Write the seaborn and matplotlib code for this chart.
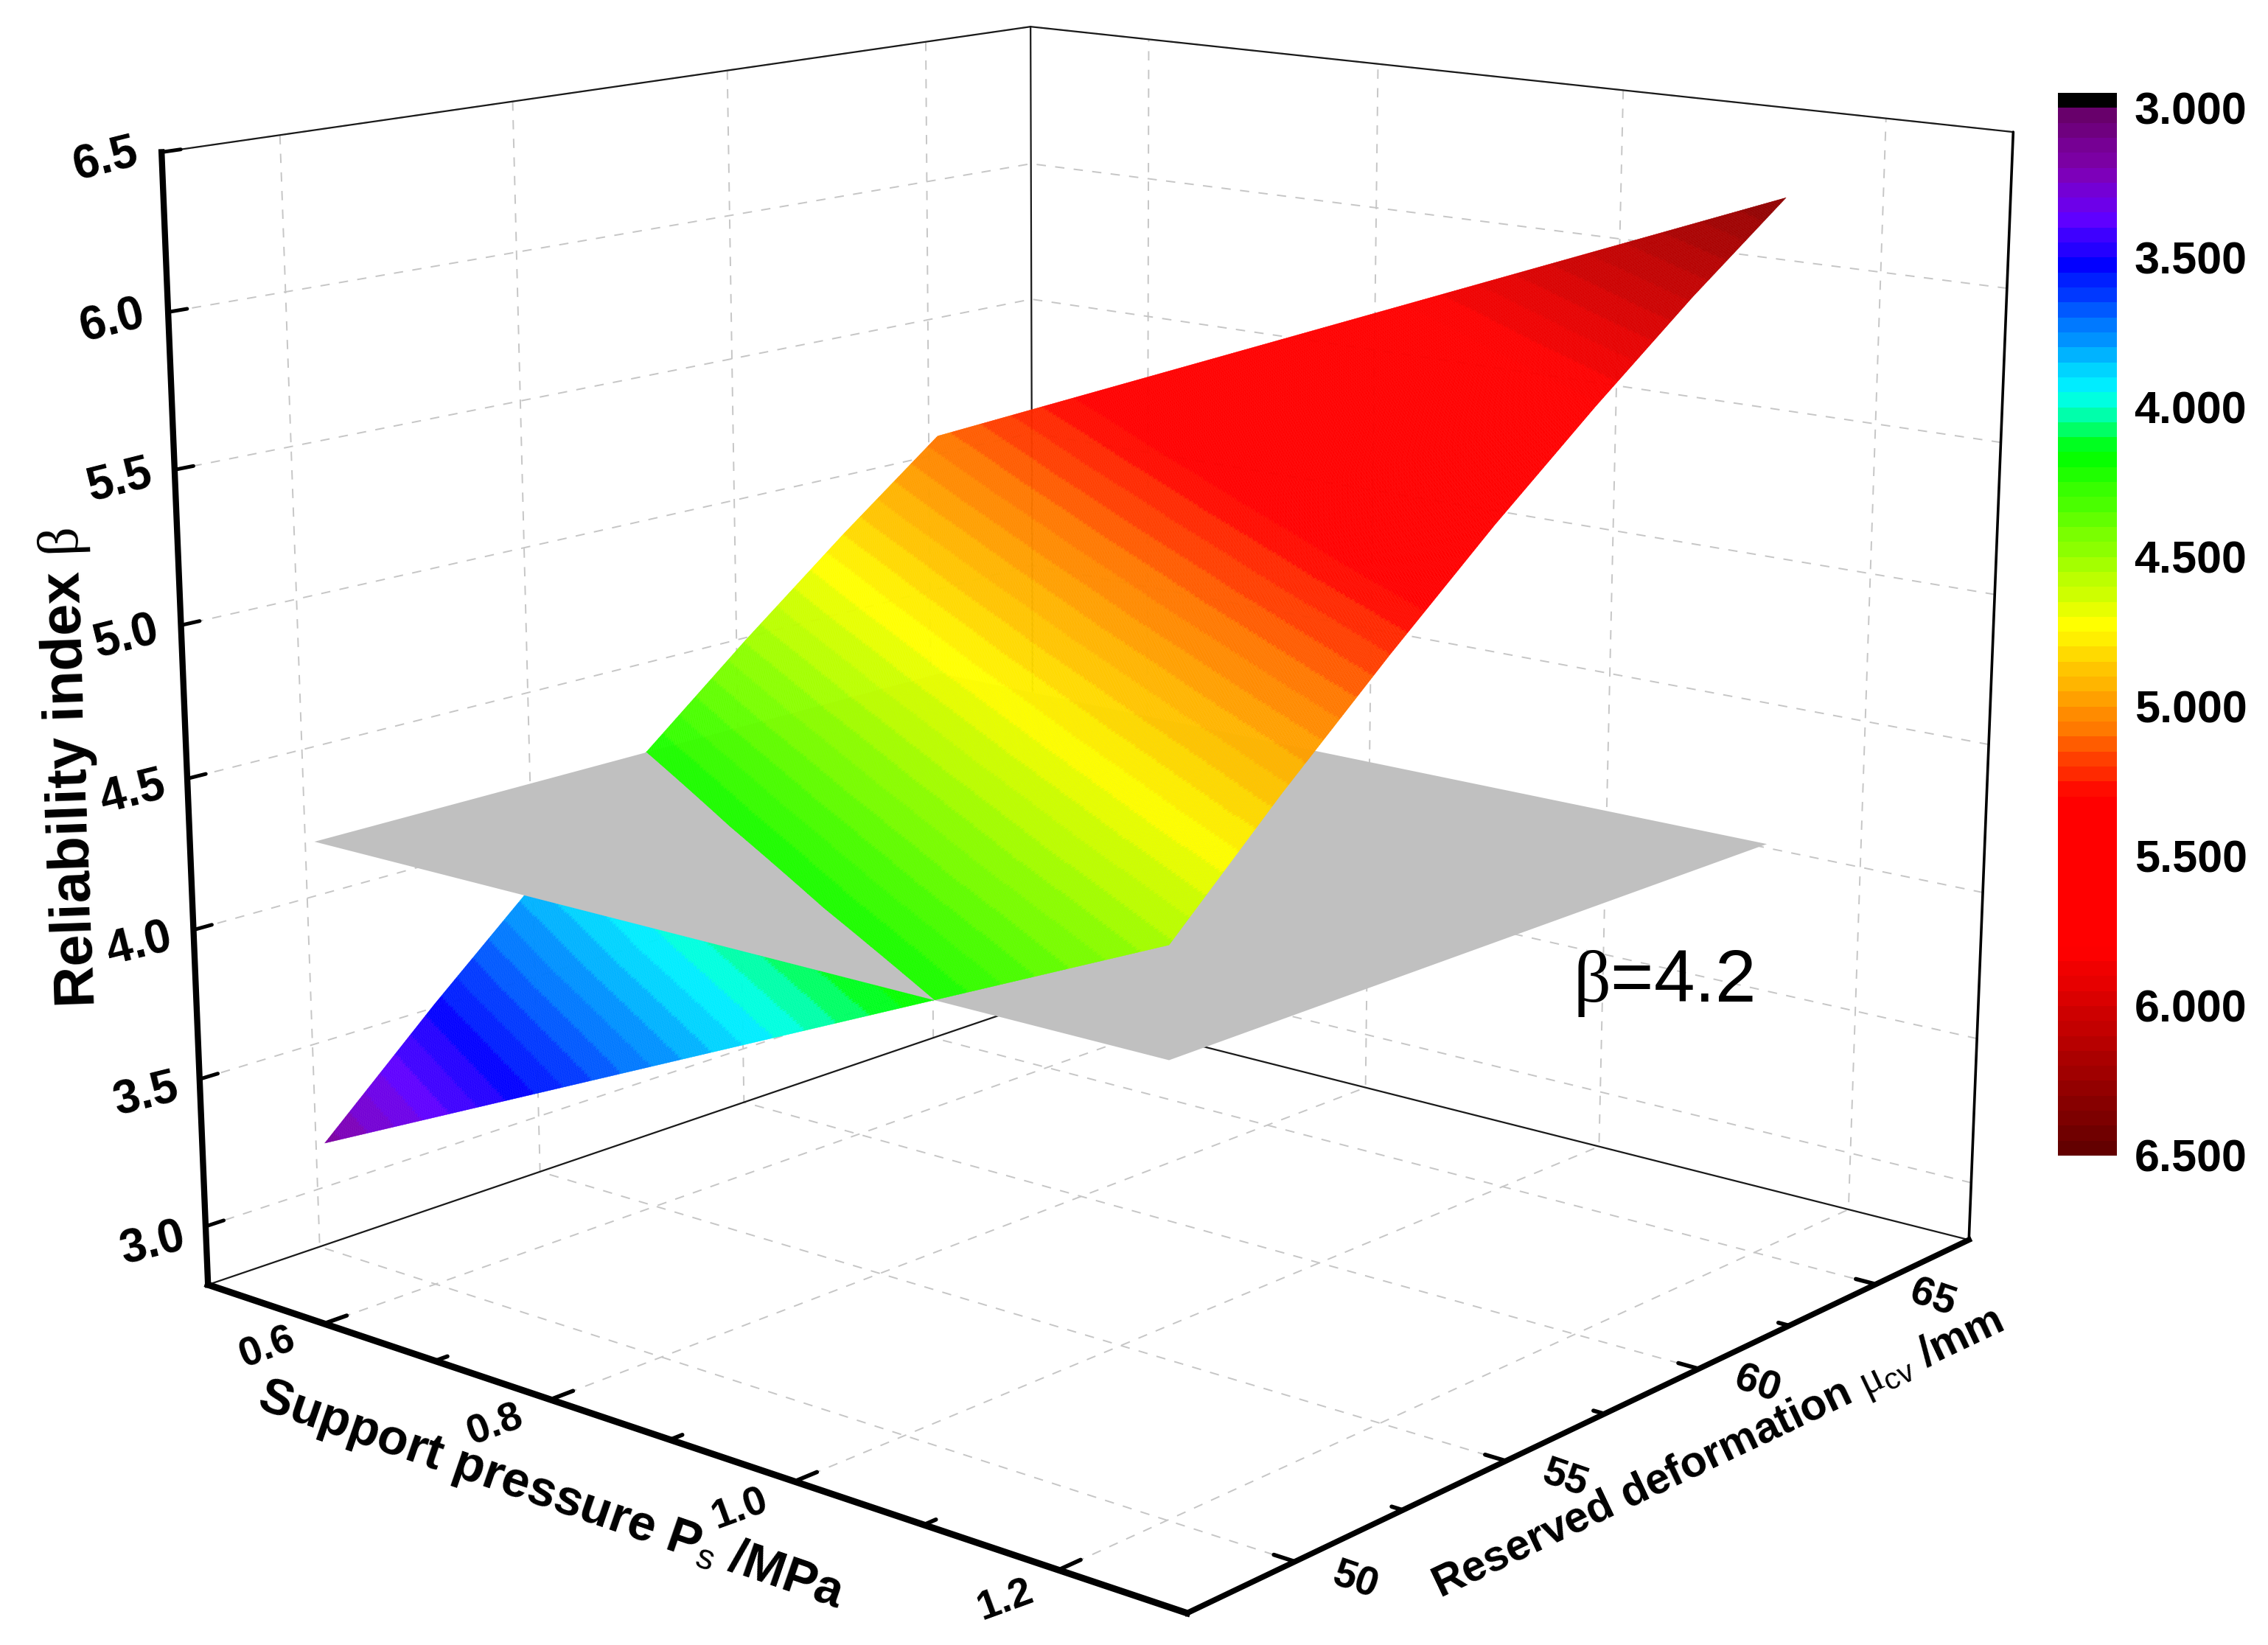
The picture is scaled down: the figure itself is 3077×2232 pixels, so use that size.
import numpy as np
import matplotlib
matplotlib.use("Agg")
import matplotlib.pyplot as plt
from matplotlib.colors import LinearSegmentedColormap, ListedColormap, BoundaryNorm
from mpl_toolkits.mplot3d import proj3d
from mpl_toolkits.mplot3d.art3d import Poly3DCollection
import seaborn as sns

# values
surf_P = [0.5, 1.2]
surf_mu = [50, 52.5, 55, 57.5, 60, 62.5, 65]
beta_low_P = [3.17, 3.53, 3.87, 4.195, 4.505, 4.80, 5.08]    # P = 0.5
beta_high_P = [4.54, 4.88, 5.20, 5.505, 5.79, 6.06, 6.31]    # P = 1.2
plane_beta = 4.2

x_major = [0.6, 0.8, 1.0, 1.2]
x_minor = [0.7, 0.9, 1.1]
y_major = [50, 55, 60, 65]
y_minor = [52.5, 57.5, 62.5]
z_major = [3.0, 3.5, 4.0, 4.5, 5.0, 5.5, 6.0, 6.5]
x_lim = (0.4916, 1.2919)
y_lim = (47.61, 67.80)
z_lim = (2.80, 6.50)

band_step = 0.05
cbar_ticks = ["3.000", "3.500", "4.000", "4.500", "5.000", "5.500", "6.000", "6.500"]
cmap_vals = [3.0, 3.2, 3.36, 3.525, 3.95, 4.15, 4.73, 5.06, 5.3, 5.82, 6.5]
cmap_cols = ["#660066", "#8000b0", "#6600ff", "#0000ff", "#00ffff", "#00ff00",
             "#ffff00", "#ff8000", "#ff0000", "#ff0000", "#600000"]

sns.set_theme(style="white")
plt.rcParams["font.family"] = ["Liberation Sans", "DejaVu Sans"]
plt.rcParams.update({"mathtext.fontset": "custom",
                     "mathtext.rm": "Liberation Sans",
                     "mathtext.it": "Liberation Serif",
                     "mathtext.bf": "Liberation Sans:bold"})

W, H = 3077, 2232
fig = plt.figure(figsize=(W / 100, H / 100), dpi=100, facecolor="white")

# 3D box, camera fitted to the box corners
ax = fig.add_axes([38.5 / W, -191.5 / H, 2827.4 / W, 2827.4 / H], projection="3d",
                  computed_zorder=False)
ax.set_proj_type("persp", focal_length=0.4976)
ax.view_init(elev=14.12, azim=-49.59)
ax.set_box_aspect((1.1142, 1.1032, 1))
ax.set_xlim(*x_lim); ax.set_ylim(*y_lim); ax.set_zlim(*z_lim)
ax.set_xticks(x_major); ax.set_yticks(y_major); ax.set_zticks(z_major)
ax.set_xticklabels([]); ax.set_yticklabels([]); ax.set_zticklabels([])
ax.patch.set_visible(False)
for a in (ax.xaxis, ax.yaxis, ax.zaxis):
    a.set_pane_color((1, 1, 1, 0))
    a.pane.set_edgecolor((1, 1, 1, 0))
    a.line.set_color((1, 1, 1, 0))
    a._axinfo["grid"].update(color="#c6c6c6", linewidth=1.4, linestyle=(0, (6.5, 6.5)))
    a._axinfo["tick"].update(inward_factor=0, outward_factor=0)

xl, xh = x_lim
yl, yh = y_lim
zl, zh = z_lim

# thin back frame
for (p0, p1) in [((xl, yh, zl), (xl, yh, zh)), ((xl, yl, zl), (xl, yh, zl)),
                 ((xl, yh, zl), (xh, yh, zl)), ((xl, yl, zh), (xl, yh, zh)),
                 ((xl, yh, zh), (xh, yh, zh))]:
    ax.plot(*zip(p0, p1), color="#1a1a1a", lw=1.6, zorder=1)
ax.plot(*zip((xh, yh, zl), (xh, yh, zh)), color="black", lw=2.6, zorder=1)

# colours: one flat band per 0.05
levels = np.arange(cmap_vals[0], cmap_vals[-1] + band_step / 2, band_step)
ramp = LinearSegmentedColormap.from_list(
    "beta", [((v - cmap_vals[0]) / (cmap_vals[-1] - cmap_vals[0]), c)
             for v, c in zip(cmap_vals, cmap_cols)])
band_cols = ramp((levels[:-1] + band_step / 2 - levels[0]) / (levels[-1] - levels[0]))
cmap = ListedColormap(band_cols)
norm = BoundaryNorm(levels, cmap.N)

# surface facets between the read values
n = 360
u = np.linspace(0, 1, n + 1)
mu_fine = np.linspace(surf_mu[0], surf_mu[-1], n + 1)
U, MM = np.meshgrid(u, mu_fine, indexing="ij")
PP = surf_P[0] + U * (surf_P[1] - surf_P[0])
edge_low = np.interp(mu_fine, surf_mu, beta_low_P)
edge_high = np.interp(mu_fine, surf_mu, beta_high_P)
ZZ = (1 - U) * edge_low[None, :] + U * edge_high[None, :]
quads = np.stack([np.stack([PP[:-1, :-1], MM[:-1, :-1], ZZ[:-1, :-1]], -1),
                  np.stack([PP[1:, :-1], MM[1:, :-1], ZZ[1:, :-1]], -1),
                  np.stack([PP[1:, 1:], MM[1:, 1:], ZZ[1:, 1:]], -1),
                  np.stack([PP[:-1, 1:], MM[:-1, 1:], ZZ[:-1, 1:]], -1)], axis=2).reshape(-1, 4, 3)


def clip_quad(q, keep_above):
    # one pass of polygon clipping against the beta plane
    out = []
    for i in range(len(q)):
        p0, p1 = q[i], q[(i + 1) % len(q)]
        in0 = (p0[2] >= plane_beta) == keep_above
        in1 = (p1[2] >= plane_beta) == keep_above
        if in0:
            out.append(p0)
        if in0 != in1:
            out.append(p0 + (p1 - p0) * (plane_beta - p0[2]) / (p1[2] - p0[2]))
    return np.array(out)


zmin_q, zmax_q = quads[:, :, 2].min(axis=1), quads[:, :, 2].max(axis=1)
lows = list(quads[zmax_q < plane_beta])
highs = list(quads[zmin_q >= plane_beta])
for q in quads[(zmin_q < plane_beta) & (zmax_q >= plane_beta)]:
    lows.append(clip_quad(q, False))
    highs.append(clip_quad(q, True))
for polys, zo in ((lows, 2), (highs, 4)):
    cols = cmap(norm([p[:, 2].mean() for p in polys]))
    ax.add_collection3d(Poly3DCollection(polys, facecolors=cols, edgecolors=cols,
                                         linewidths=0.3, zorder=zo), autolim=False)

PX, MX = np.meshgrid(surf_P, [surf_mu[0], surf_mu[-1]], indexing="ij")
ax.plot_surface(PX, MX, np.full(PX.shape, plane_beta), color="#c0c0c0", shade=False,
                linewidth=0, antialiased=True, zorder=3)

# heavy axes with their ticks
ax.plot([xl, xh], [yl, yl], [zl, zl], color="black", lw=6.5, zorder=6, solid_capstyle="projecting")
ax.plot([xh, xh], [yl, yh], [zl, zl], color="black", lw=5.5, zorder=6, solid_capstyle="projecting")
ax.plot([xl, xl], [yl, yl], [zl, zh], color="black", lw=6.0, zorder=6, solid_capstyle="projecting")
for v in x_major:
    ax.plot([v, v], [yl, yl + 0.48], [zl, zl], color="black", lw=4, zorder=6)
for v in x_minor:
    ax.plot([v, v], [yl, yl + 0.26], [zl, zl], color="black", lw=4, zorder=6)
for v in y_major:
    ax.plot([xh, xh - 0.015], [v, v], [zl, zl], color="black", lw=4, zorder=6)
for v in y_minor:
    ax.plot([xh, xh - 0.008], [v, v], [zl, zl], color="black", lw=4, zorder=6)
for v in z_major:
    ax.plot([xl, xl], [yl, yl + 0.38], [v, v], color="black", lw=3.6, zorder=6)

M = ax.get_proj()


def box_text(x, y, z, s, **kw):
    px, py, _ = proj3d.proj_transform(x, y, z, M)
    ax.text2D(px, py, s, transform=ax.transData, ha="center", va="center",
              rotation_mode="anchor", fontweight="bold", color="black", zorder=7, **kw)


for v in x_major:
    box_text(v + 0.006, yl - 1.3, zl, f"{v:.1f}", rotation=20, fontsize=40)
for v in y_major:
    box_text(xh + 0.042, v, zl, f"{v}", rotation=-19, fontsize=40)
for v in z_major:
    box_text(xl, yl - 1.1, v, f"{v:.1f}", rotation=14, fontsize=46)


# axis titles and the plane label sit at fixed places on the page
def page_text(x, y, s, **kw):
    fig.text(x * 3077 / 1568 / W, 1 - y * 3077 / 1568 / H, s, ha="center", va="center",
             rotation_mode="anchor", color="black", **kw)


page_text(381, 1034, r"Support pressure P$_{\mathrm{s}}$ /MPa", rotation=-19,
          fontsize=49, fontweight="bold")
page_text(1188, 1005, r"Reserved deformation $\mathit{\mu}_{\mathrm{cv}}$ /mm", rotation=25.4,
          fontsize=42.5, fontweight="bold")
page_text(49, 531, r"Reliability index $\mathit{\beta}$", rotation=92,
          fontsize=56, fontweight="bold")
page_text(1150, 680, r"$\mathit{\beta}$=4.2", fontsize=72, fontweight="normal")

# colour bar: one band per 0.05, black band above 3.000
cax = fig.add_axes([2792 / W, 1 - 1568 / H, 80 / W, 1442 / H])
bar_cols = ListedColormap(np.vstack([[0, 0, 0, 1], band_cols]))
bar_rows = np.arange(bar_cols.N)[:, None]
sns.heatmap(bar_rows, ax=cax, cmap=bar_cols, vmin=-0.5, vmax=bar_cols.N - 0.5, cbar=False,
            xticklabels=False, linewidths=0)
cax.set_yticks(1 + np.arange(len(cbar_ticks)) * 10)
cax.set_yticklabels(cbar_ticks, rotation=0, fontsize=44, fontweight="bold", color="black")
cax.yaxis.tick_right()
cax.tick_params(axis="y", length=0, pad=17, right=False, left=False)

fig.savefig("out.png", dpi=100)
